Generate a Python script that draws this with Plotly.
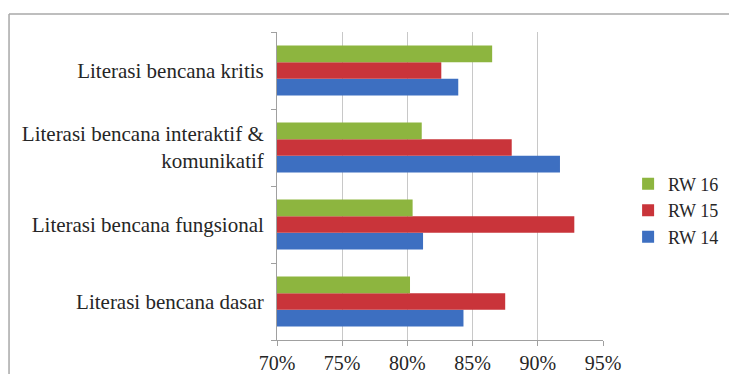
import plotly.graph_objects as go

categories = [
    "Literasi bencana dasar",
    "Literasi bencana fungsional",
    "Literasi bencana interaktif &<br>komunikatif",
    "Literasi bencana kritis",
]
rw14 = [0.843, 0.812, 0.917, 0.839]
rw15 = [0.875, 0.928, 0.880, 0.826]
rw16 = [0.802, 0.804, 0.811, 0.865]
tick_vals = [0.70, 0.75, 0.80, 0.85, 0.90, 0.95]
tick_text = ["70%", "75%", "80%", "85%", "90%", "95%"]

FONT = "Liberation Serif, Times New Roman, serif"

fig = go.Figure()
fig.add_trace(go.Bar(name="RW 14", y=categories, x=rw14, orientation="h",
                     marker=dict(color="#3D6FC1", line=dict(width=0))))
fig.add_trace(go.Bar(name="RW 15", y=categories, x=rw15, orientation="h",
                     marker=dict(color="#C9343A", line=dict(width=0))))
fig.add_trace(go.Bar(name="RW 16", y=categories, x=rw16, orientation="h",
                     marker=dict(color="#8DB53F", line=dict(width=0))))

fig.update_layout(
    width=729, height=366,
    margin=dict(l=269, r=134, t=24, b=34, autoexpand=False),
    barmode="group", bargap=0.35, bargroupgap=0,
    paper_bgcolor="white", plot_bgcolor="white",
    font=dict(family=FONT, size=20, color="#262626"),
    legend=dict(traceorder="reversed", x=1.077, xanchor="left", y=0.42, yanchor="middle",
                font=dict(family=FONT, size=18, color="#262626"),
                bgcolor="rgba(0,0,0,0)", itemwidth=30, tracegroupgap=0),
    showlegend=True,
)
fig.update_xaxes(range=[0.70, 0.95], tickvals=tick_vals, ticktext=tick_text,
                 showgrid=True, gridcolor="#C8C8C8", gridwidth=1,
                 showline=True, linecolor="#A0A0A0", linewidth=1,
                 ticks="outside", ticklen=5, tickcolor="#A0A0A0",
                 zeroline=False, fixedrange=True, automargin=False)
fig.update_yaxes(type="category", showgrid=False,
                 showline=True, linecolor="#A0A0A0", linewidth=1,
                 ticks="outside", ticklen=5, tickcolor="#A0A0A0",
                 tickfont=dict(family=FONT, size=21, color="#262626"),
                 tickson="boundaries", ticklabelstandoff=8, fixedrange=True,
                 automargin=False)

# outer frame (top and left edges visible)
fig.add_shape(type="line", xref="paper", yref="paper", x0=-0.822, x1=1.5, y0=1.0584, y1=1.0584,
              line=dict(color="#A8A8A8", width=1.5))
fig.add_shape(type="line", xref="paper", yref="paper", x0=-0.822, x1=-0.822, y0=1.0584, y1=-0.2,
              line=dict(color="#A8A8A8", width=1.5))

fig.write_html("out.html")
